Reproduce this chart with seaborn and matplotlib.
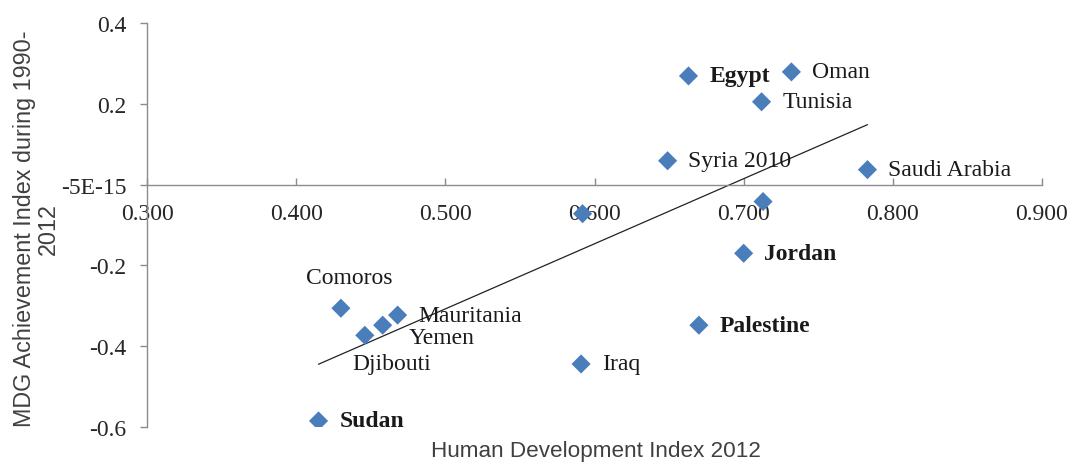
import numpy as np
import pandas as pd
import seaborn as sns
import matplotlib.pyplot as plt

# values
countries = ['Egypt', 'Oman', 'Tunisia', 'Syria 2010', 'Saudi Arabia', '', '',
             'Jordan', 'Comoros', 'Mauritania', 'Yemen', 'Djibouti', 'Iraq',
             'Palestine', 'Sudan']
hdi = [0.663, 0.732, 0.712, 0.649, 0.783, 0.713, 0.592,
       0.700, 0.430, 0.468, 0.458, 0.446, 0.591, 0.670, 0.415]
mdg = [0.269, 0.279, 0.205, 0.059, 0.037, -0.042, -0.072,
       -0.170, -0.306, -0.323, -0.348, -0.373, -0.444, -0.348, -0.585]
x_ticks = [0.3, 0.4, 0.5, 0.6, 0.7, 0.8, 0.9]
y_ticks = [-0.6, -0.4, -0.2, 0.0, 0.2, 0.4]
y_tick_labels = ['-0.6', '-0.4', '-0.2', '-5E-15', '0.2', '0.4']

df = pd.DataFrame({'country': countries, 'hdi': hdi, 'mdg': mdg})

sns.set_style("white")
plt.rcParams['font.family'] = ['Liberation Serif', 'DejaVu Serif']

fig = plt.figure(figsize=(10.71, 4.64), dpi=100)
ax = fig.add_axes([147 / 1071, 1 - 428 / 464, 895 / 1071, 404 / 464])

sns.scatterplot(data=df, x='hdi', y='mdg', marker='D', s=95, color='#4a7ebb',
                edgecolor='none', ax=ax, zorder=3)

# linear trend line like excel
slope, intercept = np.polyfit(df['hdi'], df['mdg'], 1)
xs = np.array([df['hdi'].min(), df['hdi'].max()])
ax.plot(xs, slope * xs + intercept, color='#222222', lw=0.9, zorder=2)

# labels, most sit to the right of the marker
special = {'Comoros': ((6, 22), 'center'),
           'Yemen': ((19, -9), 'left'),
           'Djibouti': ((-9, -20), 'left')}
bold = ['Egypt', 'Jordan', 'Palestine', 'Sudan']
for _, r in df.iterrows():
    if r['country'] == '':
        continue
    off, ha = special.get(r['country'], ((15, 0), 'left'))
    ax.annotate(r['country'], (r['hdi'], r['mdg']), xytext=off,
                textcoords='offset points', ha=ha, va='center', fontsize=17,
                color='#1a1a1a',
                fontweight='bold' if r['country'] in bold else 'normal',
                zorder=4)

ax.set_xlim(0.3, 0.9)
ax.set_ylim(-0.6, 0.4)
ax.set_xticks(x_ticks)
ax.set_xticklabels(['%.3f' % v for v in x_ticks])
ax.set_yticks(y_ticks)
ax.set_yticklabels(y_tick_labels)

ax.spines['top'].set_visible(False)
ax.spines['right'].set_visible(False)
ax.spines['bottom'].set_position(('data', 0))
for sp in ['left', 'bottom']:
    ax.spines[sp].set_color('#8c8c8c')
    ax.spines[sp].set_linewidth(1)
ax.tick_params(axis='y', direction='out', length=5, width=1, color='#8c8c8c',
               pad=10, labelsize=17, labelcolor='#262626', left=True)
ax.tick_params(axis='x', direction='in', length=5, width=1, color='#8c8c8c',
               pad=13, labelsize=17, labelcolor='#262626', bottom=True)
ax.set_xlabel('')
ax.set_ylabel('')

fig.text(596 / 1071, 1 - 452 / 464, 'Human Development Index 2012',
         ha='center', va='center', fontsize=16.2, color='#404040',
         family='Liberation Sans')
fig.text(36 / 1071, 1 - 229 / 464, 'MDG Achievement Index during 1990-\n2012',
         ha='center', va='center', rotation=90, multialignment='center',
         fontsize=16.8, color='#404040', family='Liberation Sans',
         linespacing=1.05)

plt.savefig('out.png', dpi=100)
